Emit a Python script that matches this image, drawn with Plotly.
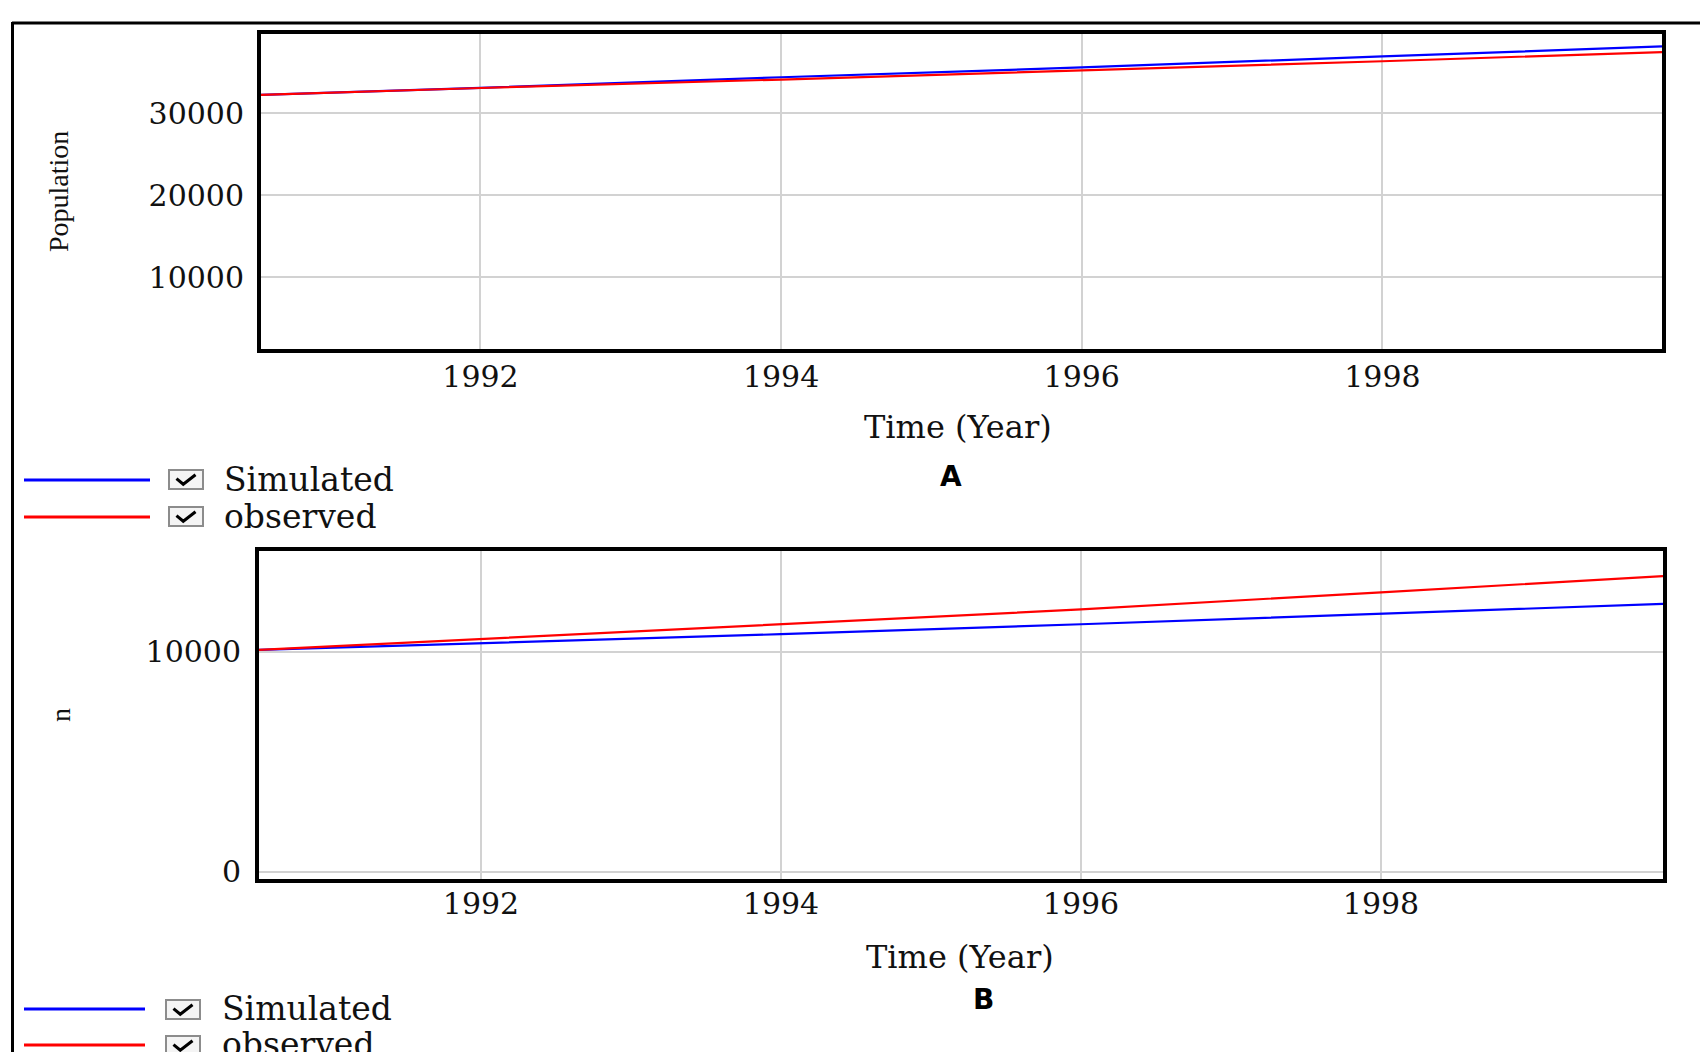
import plotly.graph_objects as go

# ---------------- data ----------------
years_a = [1990.54, 1992, 1994, 1996, 1998, 1999.86]
simulated_a = [32250, 33100, 34390, 35580, 36930, 38140]
observed_a = [32250, 33080, 34110, 35180, 36340, 37460]

years_b = [1990.52, 1992, 1994, 1996, 1998, 1999.88]
simulated_b = [10080, 10373, 10796, 11246, 11741, 12173]
observed_b = [10080, 10571, 11246, 11920, 12699, 13432]

x_ticks = [1992, 1994, 1996, 1998]
y_ticks_a = [10000, 20000, 30000]
y_ticks_b = [0, 10000]

series_names = ["Simulated", "observed"]
series_colors = ["#0000ff", "#ff0000"]

W, H = 1700, 1052


def X(px):
    return px / W


def Y(py):
    return 1 - py / H


fig = go.Figure()

for name, col, ya in zip(series_names, series_colors, [simulated_a, observed_a]):
    fig.add_trace(go.Scatter(x=years_a, y=ya, mode="lines", name=name,
                             line=dict(color=col, width=2.2), xaxis="x", yaxis="y",
                             showlegend=False))
for name, col, yb in zip(series_names, series_colors, [simulated_b, observed_b]):
    fig.add_trace(go.Scatter(x=years_b, y=yb, mode="lines", name=name,
                             line=dict(color=col, width=2.2), xaxis="x2", yaxis="y2",
                             showlegend=False))

tick_font = dict(family="DejaVu Serif", size=30, color="#111111")
common_axis = dict(showgrid=True, gridcolor="#d2d2d2", gridwidth=2,
                   showline=True, linecolor="black", linewidth=4, mirror=True,
                   ticks="", zeroline=False, tickfont=tick_font, fixedrange=True,
                   automargin=False)

fig.update_layout(
    width=W, height=H,
    margin=dict(l=0, r=0, t=0, b=0),
    paper_bgcolor="white", plot_bgcolor="white",
    xaxis=dict(domain=[X(261), X(1662)], range=[years_a[0], years_a[-1]],
               tickvals=x_ticks, ticktext=[str(v) for v in x_ticks],
               anchor="y", ticklabelstandoff=-2, **common_axis),
    yaxis=dict(domain=[Y(349), Y(34)], range=[1260, 39660],
               tickvals=y_ticks_a, ticktext=[str(v) for v in y_ticks_a],
               anchor="x", ticklabelstandoff=7, **common_axis),
    xaxis2=dict(domain=[X(259), X(1663)], range=[years_b[0], years_b[-1]],
                tickvals=x_ticks, ticktext=[str(v) for v in x_ticks],
                anchor="y2", ticklabelstandoff=-5, **common_axis),
    yaxis2=dict(domain=[Y(879), Y(551)], range=[-330, 14575],
                tickvals=y_ticks_b, ticktext=[str(v) for v in y_ticks_b],
                anchor="x2", ticklabelstandoff=8, **common_axis),
)

shapes = []
annotations = []

# outer frame (top and left edges)
shapes.append(dict(type="line", xref="paper", yref="paper",
                   x0=X(12), x1=X(1700), y0=Y(23), y1=Y(23),
                   line=dict(color="black", width=3)))
shapes.append(dict(type="line", xref="paper", yref="paper",
                   x0=X(12.5), x1=X(12.5), y0=Y(22), y1=Y(1052),
                   line=dict(color="black", width=3)))

serif_title = dict(family="DejaVu Serif", size=32, color="#111111")

# axis titles
annotations.append(dict(text="Time (Year)", x=X(958), y=Y(427), xref="paper", yref="paper",
                        showarrow=False, font=serif_title, xanchor="center", yanchor="middle"))
annotations.append(dict(text="Time (Year)", x=X(960), y=Y(957), xref="paper", yref="paper",
                        showarrow=False, font=serif_title, xanchor="center", yanchor="middle"))
annotations.append(dict(text="Population", x=X(58), y=Y(192), xref="paper", yref="paper",
                        showarrow=False, textangle=-90,
                        font=dict(family="Liberation Serif", size=28, color="#111111"),
                        xanchor="center", yanchor="middle"))
annotations.append(dict(text="n", x=X(60), y=Y(715), xref="paper", yref="paper",
                        showarrow=False, textangle=-90,
                        font=dict(family="Liberation Serif", size=28, color="#111111"),
                        xanchor="center", yanchor="middle"))

# panel labels
annotations.append(dict(text="<b>A</b>", x=X(951), y=Y(476), xref="paper", yref="paper",
                        showarrow=False, font=dict(family="DejaVu Sans", size=28, color="black"),
                        xanchor="center", yanchor="middle"))
annotations.append(dict(text="<b>B</b>", x=X(983), y=Y(999), xref="paper", yref="paper",
                        showarrow=False, font=dict(family="DejaVu Sans", size=28, color="black"),
                        xanchor="center", yanchor="middle"))


def legend_item(line_x0, line_x1, line_y, box_x0, box_x1, box_y0, box_y1, text_x, label, color):
    shapes.append(dict(type="line", xref="paper", yref="paper",
                       x0=X(line_x0), x1=X(line_x1), y0=Y(line_y), y1=Y(line_y),
                       line=dict(color=color, width=3)))
    shapes.append(dict(type="rect", xref="paper", yref="paper",
                       x0=X(box_x0), x1=X(box_x1), y0=Y(box_y1), y1=Y(box_y0),
                       fillcolor="#f4f4f4", line=dict(color="#8c8c8c", width=2)))
    bw = box_x1 - box_x0
    bh = box_y1 - box_y0
    p = (f"M {X(box_x0 + 0.22 * bw)},{Y(box_y0 + 0.45 * bh)} "
         f"L {X(box_x0 + 0.42 * bw)},{Y(box_y0 + 0.75 * bh)} "
         f"L {X(box_x0 + 0.78 * bw)},{Y(box_y0 + 0.25 * bh)}")
    shapes.append(dict(type="path", xref="paper", yref="paper", path=p,
                       line=dict(color="black", width=3)))
    annotations.append(dict(text=label, x=X(text_x), y=Y(line_y - 1), xref="paper", yref="paper",
                            showarrow=False, font=dict(family="DejaVu Serif", size=33, color="#111111"),
                            xanchor="left", yanchor="middle"))


# legend for panel A
legend_item(24, 150, 480, 169, 203, 470, 489, 222, series_names[0], series_colors[0])
legend_item(24, 150, 517, 169, 203, 507, 526, 222, series_names[1], series_colors[1])
# legend for panel B (the last row is cut by the bottom edge, as in the reference)
legend_item(24, 145, 1009, 166, 200, 1000, 1019, 220, series_names[0], series_colors[0])
legend_item(24, 145, 1045, 166, 200, 1036, 1055, 220, series_names[1], series_colors[1])

fig.update_layout(shapes=shapes, annotations=annotations)

page_fix = ("document.documentElement.style.cssText='margin:0;padding:0;overflow:hidden;height:1052px';"
            "document.body.style.cssText='margin:0;padding:0;overflow:hidden;height:1052px';")

fig.write_html("out.html", post_script=page_fix)
